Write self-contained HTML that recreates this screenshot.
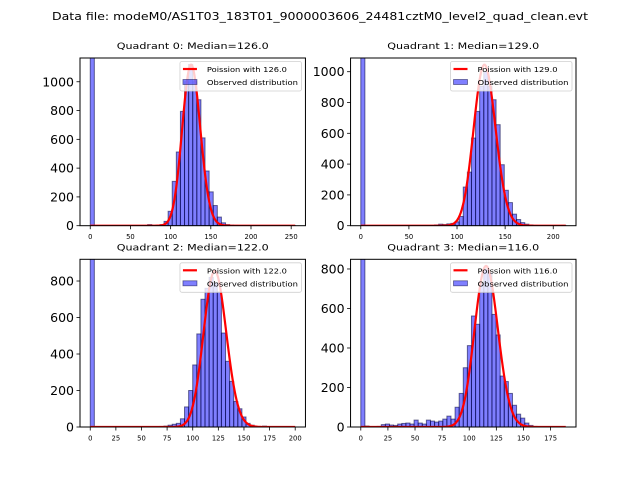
<!DOCTYPE html>
<html><head><meta charset="utf-8">
<style>
html,body{margin:0;padding:0;background:#fff;}
svg{display:block;font-family:"DejaVu Sans","Liberation Sans",sans-serif;}
</style></head>
<body>
<svg id="fig" width="640" height="480" viewBox="0 0 640 480" xmlns="http://www.w3.org/2000/svg">
<rect width="640" height="480" fill="#fff"/>
<text x="320" y="20" font-size="11" text-anchor="middle" textLength="536" lengthAdjust="spacingAndGlyphs">Data file: modeM0/AS1T03_183T01_9000003606_24481cztM0_level2_quad_clean.evt</text>
</svg>
<script>
const medians = [126.0, 129.0, 122.0, 116.0];
const dataMax = [255, 213, 200, 189];
const yMax = [1165, 1089, 919, 849];
const curvePeak = [1118, 1045, 855, 815];
const xTicks0 = [0, 50, 100, 150, 200, 250];
const xTicks1 = [0, 50, 100, 150, 200];
const xTicks2 = [0, 25, 50, 75, 100, 125, 150, 175, 200];
const xTicks3 = [0, 25, 50, 75, 100, 125, 150, 175];
const yTicks0 = [0, 200, 400, 600, 800, 1000];
const yTicks1 = [0, 200, 400, 600, 800, 1000];
const yTicks2 = [0, 200, 400, 600, 800];
const yTicks3 = [0, 200, 400, 600, 800];
const counts0 = [5000,0,0,0,0,0,0,0,0,0,0,0,0,1,8,2,4,8,30,100,308,512,794,1000,1120,1000,875,610,380,235,140,60,20,8,4,2,1,1,0,0,0,0,0,0,0,0,0,0,0,1];
const counts1 = [5000,0,0,0,0,0,0,0,0,0,0,0,0,0,0,0,0,2,5,10,8,12,15,25,60,251,348,569,742,905,1000,905,818,656,396,230,150,75,40,20,10,5,2,1,1,0,0,0,0,2];
const counts2 = [5000,0,0,0,0,0,0,0,0,0,0,0,0,0,0,1,2,3,5,10,15,20,45,110,200,340,510,700,760,820,790,740,515,360,250,140,100,55,20,10,2,1,5,2,0,0,0,0,0,0];
const counts3 = [5000,5,2,1,3,12,15,10,8,15,18,20,15,35,20,15,35,30,25,30,40,55,40,100,170,300,412,562,520,727,800,780,570,466,258,230,170,110,65,45,20,8,3,1,0,0,0,0,0,0];

const allCounts=[counts0,counts1,counts2,counts3];
const allXT=[xTicks0,xTicks1,xTicks2,xTicks3];
const allYT=[yTicks0,yTicks1,yTicks2,yTicks3];
const NS="http://www.w3.org/2000/svg";
const svg=document.getElementById('fig');
function mk(tag,attrs,parent){const e=document.createElementNS(NS,tag);for(const k in attrs)e.setAttribute(k,attrs[k]);(parent||svg).appendChild(e);return e;}
function logPmf(k,lam){let lf=0;for(let i=2;i<=k;i++)lf+=Math.log(i);return k*Math.log(lam)-lam-lf;}

const axW=225.45, axH=167.7;
const lefts=[80,350.55], tops=[58,259.3];
for(let q=0;q<4;q++){
  const L=lefts[q%2], T=tops[Math.floor(q/2)], B=T+axH, R=L+axW;
  const d=dataMax[q];
  const xs=v=>L+(v+0.05*d)/(1.1*d)*axW;
  const ys=v=>B-v/yMax[q]*axH;
  const g=mk('g',{});
  
  
  const cid='clip'+q;
  const cp=mk('clipPath',{id:cid},g);mk('rect',{x:L,y:T,width:axW,height:axH},cp);
  const bars=mk('g',{'clip-path':'url(#'+cid+')'},g);
  const c=allCounts[q], bw=d/c.length;
  for(let i=0;i<c.length;i++){
    if(c[i]<=0)continue;
    const x0=xs(i*bw),x1=xs((i+1)*bw),y=ys(c[i]);
    const r=mk('rect',{x:x0,y:y,width:x1-x0,height:B-y,fill:'rgba(0,0,255,0.5)',stroke:'rgba(0,0,60,0.55)','stroke-width':1},bars);
    
    
  }
  const lam=medians[q], mode=Math.floor(lam);
  const sc=curvePeak[q]/Math.exp(logPmf(mode,lam));
  let pts=[];
  for(let k=0;k<=Math.round(d);k++){pts.push(xs(k).toFixed(2)+','+ys(sc*Math.exp(logPmf(k,lam))).toFixed(2));}
  const pl=mk('polyline',{points:pts.join(' '),fill:'none',stroke:'#ff0000','stroke-width':2.2,'stroke-linejoin':'round'},bars);
  
  
  const fr=mk('rect',{x:L,y:T,width:axW,height:axH,fill:'none',stroke:'#000','stroke-width':1},g);
  
  
  for(const t of allXT[q]){
    const x=xs(t);
    mk('line',{x1:x,y1:B,x2:x,y2:B+3.5,stroke:'#000','stroke-width':0.8},g);
    const tx=mk('text',{x:x,y:B+13.5,'font-size':6.8,'text-anchor':'middle'},g);tx.textContent=t;
    
    
  }
  for(const t of allYT[q]){
    const y=ys(t);
    mk('line',{x1:L,y1:y,x2:L-3.5,y2:y,stroke:'#000','stroke-width':0.8},g);
    const tx=mk('text',{x:L-6,y:y+4.5,'font-size':12.5,'text-anchor':'end'},g);tx.textContent=t;
    
    
  }
  const ti=mk('text',{x:(L+R)/2,y:T-9,'font-size':9,'text-anchor':'middle',textLength:152,lengthAdjust:'spacingAndGlyphs'},g);
  ti.textContent='Quadrant '+q+': Median='+lam.toFixed(1);
  
  
  const lg=mk('g',{},g);
  
  
  const lx=R-125.5, ly=T+3.5;
  mk('rect',{x:lx,y:ly,width:121.5,height:29.5,rx:2,fill:'rgba(255,255,255,0.8)',stroke:'#d0d0d0','stroke-width':0.8},lg);
  mk('line',{x1:lx+3,y1:ly+7.5,x2:lx+17,y2:ly+7.5,stroke:'#ff0000','stroke-width':2.2},lg);
  mk('rect',{x:lx+3,y:ly+18,width:14,height:5,fill:'rgba(0,0,255,0.5)',stroke:'rgba(0,0,60,0.55)','stroke-width':0.8},lg);
  const t1=mk('text',{x:lx+27,y:ly+10.5,'font-size':7,textLength:80,lengthAdjust:'spacingAndGlyphs'},lg);t1.textContent='Poission with '+lam.toFixed(1);
  
  
  const t2=mk('text',{x:lx+27,y:ly+23.5,'font-size':7,textLength:91,lengthAdjust:'spacingAndGlyphs'},lg);t2.textContent='Observed distribution';
  
  
}
</script>
</body></html>
